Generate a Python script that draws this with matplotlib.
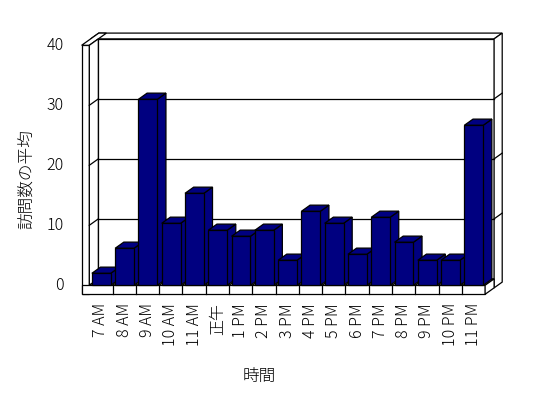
import matplotlib
matplotlib.use("Agg")
import matplotlib.pyplot as plt
from matplotlib.patches import Polygon

plt.rcParams["font.family"] = ["Noto Sans CJK JP", "DejaVu Sans"]
plt.rcParams["font.weight"] = "light"

# data (average visits per hour)
hours = ["7 AM", "8 AM", "9 AM", "10 AM", "11 AM", "正午", "1 PM", "2 PM", "3 PM",
         "4 PM", "5 PM", "6 PM", "7 PM", "8 PM", "9 PM", "10 PM", "11 PM"]
visits = [2.0, 6.17, 31.0, 10.33, 15.33, 9.17, 8.17, 9.17, 4.17,
          12.33, 10.33, 5.17, 11.33, 7.17, 4.17, 4.17, 26.67]
yticks = [0, 10, 20, 30, 40]
ylabel = "訪問数の平均"
xlabel = "時間"

NAVY = "#000080"
DX, DY = 0.387, 1.07      # screen shift of one unit of depth (x in categories, y in values)
WALL_T = 0.33             # left wall thickness (categories)
BACK_T = 0.9              # back wall thickness (depth units)
FLOOR_T = 1.5             # floor thickness (values)
LW = 0.9


def proj(x, y, z):
    return (x + z * DX, y + z * DY)


def face(ax, pts, fc="white", zo=1):
    ax.add_patch(Polygon([proj(*p) for p in pts], closed=True, fc=fc, ec="black",
                         lw=LW, clip_on=False, zorder=zo, joinstyle="miter"))


def line3(ax, p, q, zo=2):
    a, b = proj(*p), proj(*q)
    ax.plot([a[0], b[0]], [a[1], b[1]], color="black", lw=LW, clip_on=False, zorder=zo)


fig = plt.figure(figsize=(5.48, 3.98), dpi=100)
ax = fig.add_axes([0.163, 0.2832, 0.7222, 0.6030])
n = len(hours)
ymax = yticks[-1]
ax.set_xlim(0, n)
ax.set_ylim(0, ymax)
ax.axis("off")

# back wall (front face, top, right side)
zb0, zb1 = 1.0, 1.0 + BACK_T
face(ax, [(0, 0, zb0), (n, 0, zb0), (n, ymax, zb0), (0, ymax, zb0)])
face(ax, [(-WALL_T, ymax, zb0), (n, ymax, zb0), (n, ymax, zb1), (-WALL_T, ymax, zb1)])
face(ax, [(n, -FLOOR_T, zb0), (n, -FLOOR_T, zb1), (n, ymax, zb1), (n, ymax, zb0)])

# left wall (front face, top, inner face)
face(ax, [(-WALL_T, -FLOOR_T, 0), (0, -FLOOR_T, 0), (0, ymax, 0), (-WALL_T, ymax, 0)])
face(ax, [(-WALL_T, ymax, 0), (0, ymax, 0), (0, ymax, zb1), (-WALL_T, ymax, zb1)])
face(ax, [(0, 0, 0), (0, 0, zb0), (0, ymax, zb0), (0, ymax, 0)])

# floor (top, front, right side)
face(ax, [(0, 0, 0), (n, 0, 0), (n, 0, zb0), (0, 0, zb0)])
face(ax, [(-WALL_T, -FLOOR_T, 0), (n, -FLOOR_T, 0), (n, 0, 0), (-WALL_T, 0, 0)])
face(ax, [(n, -FLOOR_T, 0), (n, -FLOOR_T, zb0), (n, 0, zb0), (n, 0, 0)])
for k in range(1, n):
    line3(ax, (k, -FLOOR_T, 0), (k, 0, 0))
    line3(ax, (k, 0, 0), (k, 0, zb0))

# gridlines on the walls
for v in yticks[1:-1]:
    line3(ax, (0, v, 0), (0, v, zb0))
    line3(ax, (0, v, zb0), (n, v, zb0))
    line3(ax, (n, v, zb0), (n, v, zb1))

# bars, left to right so each front hides the previous side face
for i, v in enumerate(visits):
    x0, x1, z0, z1 = i + 0.11, i + 0.92, 0.0, 0.96
    zo = 3 + i
    face(ax, [(x1, 0, z0), (x1, 0, z1), (x1, v, z1), (x1, v, z0)], NAVY, zo)
    face(ax, [(x0, v, z0), (x1, v, z0), (x1, v, z1), (x0, v, z1)], NAVY, zo)
    face(ax, [(x0, 0, z0), (x1, 0, z0), (x1, v, z0), (x0, v, z0)], NAVY, zo)

# tick labels
for v in yticks:
    ax.text(-1.09, v, str(v), ha="right", va="center", fontsize=11.5)
for i, lab in enumerate(hours):
    ax.text(i + 0.5, -2.95, lab, rotation=90, ha="center", va="top", fontsize=11.5)

fig.text(26 / 548, 1 - 179 / 398, ylabel, rotation=90, ha="center", va="center", fontsize=12)
fig.text(259 / 548, 1 - 376 / 398, xlabel, ha="center", va="center", fontsize=12)

fig.savefig("out.png", dpi=100)
